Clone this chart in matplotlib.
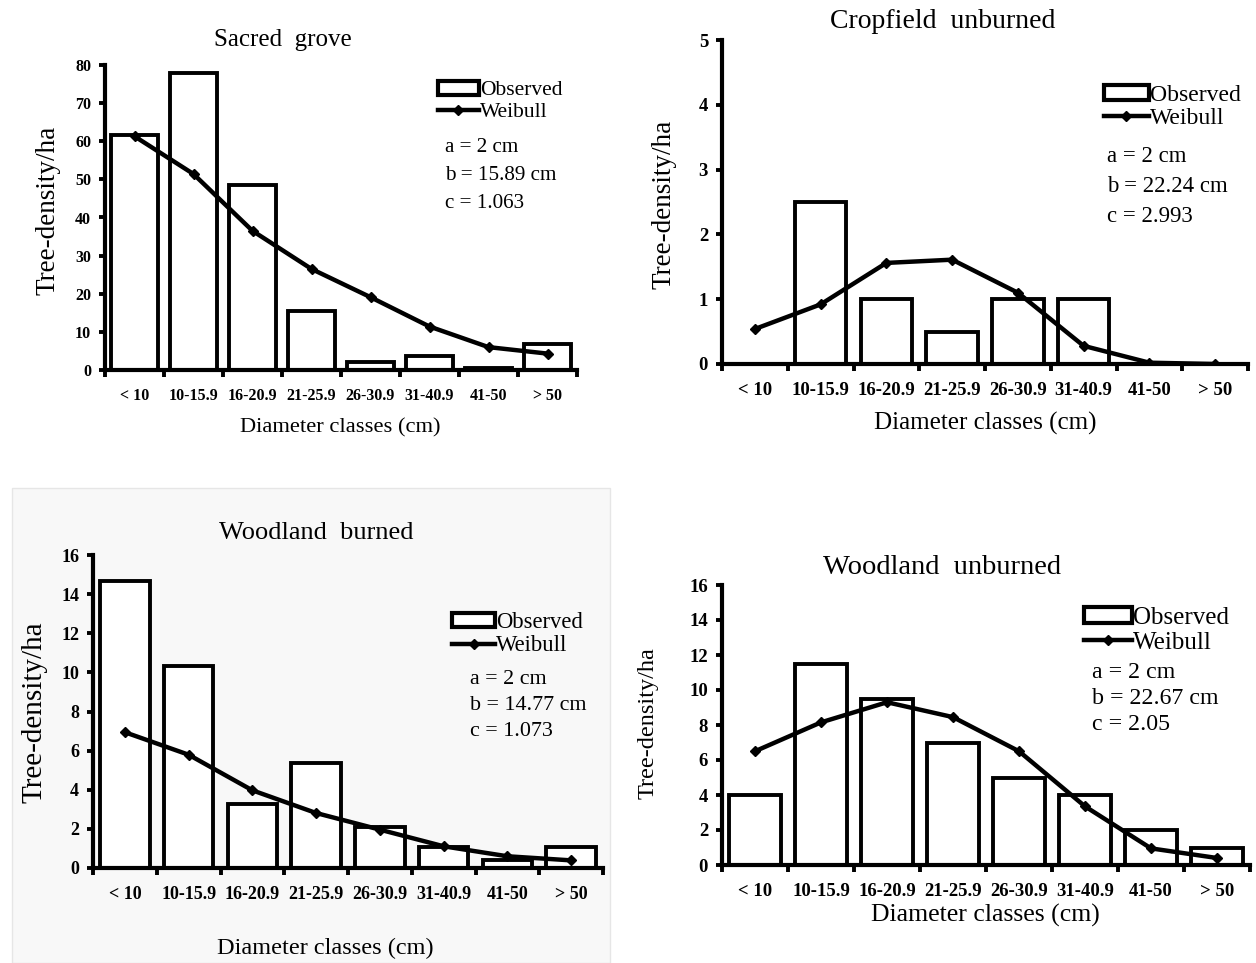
import numpy as np
import matplotlib
matplotlib.use('Agg')
import matplotlib.pyplot as plt
from matplotlib.patches import Patch, Rectangle
from matplotlib.lines import Line2D

plt.rcParams['font.family'] = ['Liberation Serif', 'DejaVu Serif']

W, H = 1256, 963

classes = ['< 10', '10-15.9', '16-20.9', '21-25.9', '26-30.9', '31-40.9', '41-50', '> 50']

sacred_obs = [61.7, 78, 48.5, 15.6, 2.0, 3.6, 0.6, 6.8]
sacred_wb = [61.3, 51.4, 36.5, 26.5, 19.1, 11.4, 6.0, 4.3]

crop_obs = [0, 2.5, 1, 0.5, 1, 1, 0, 0]
crop_wb = [0.54, 0.92, 1.56, 1.61, 1.1, 0.28, 0.02, 0.0]

wburn_obs = [14.65, 10.35, 3.25, 5.35, 2.1, 1.05, 0.4, 1.07]
wburn_wb = [6.94, 5.79, 3.97, 2.81, 1.96, 1.11, 0.6, 0.39]

wunburn_obs = [4, 11.5, 9.5, 7, 5, 4, 2, 1]
wunburn_wb = [6.5, 8.15, 9.3, 8.45, 6.5, 3.35, 0.95, 0.4]

titles = ['Sacred  grove', 'Cropfield  unburned', 'Woodland  burned', 'Woodland  unburned']
params = [('2', '15.89', '1.063'), ('2', '22.24', '2.993'),
          ('2', '14.77', '1.073'), ('2', '22.67', '2.05')]


def px(x0, y0, x1, y1):
    # pixel box (top-left origin) -> figure fraction rect
    return [x0 / W, 1 - y1 / H, (x1 - x0) / W, (y1 - y0) / H]


fig = plt.figure(figsize=(W / 100, H / 100), dpi=100)

# faint scanned background of the lower left panel
fig.patches.append(Rectangle((12 / W, 1 - 963 / H), 598 / W, 475 / H,
                             transform=fig.transFigure, facecolor='#f8f8f8',
                             edgecolor='#e6e6e6', lw=1, zorder=-5))


def panel(box, obs, wb, ymax, ystep, title, prm, title_xy, xlab_xy, ylab_xy,
          leg_xy, prm_xy, tick_fs=11.5, ylab_fs=19, xlab_fs=16, title_fs=18,
          leg_fs=15, prm_fs=15):
    ax = fig.add_axes(px(*box))
    ax.patch.set_alpha(0)
    x = np.arange(len(classes))
    ax.bar(x, obs, width=0.78, facecolor='white', edgecolor='black', lw=2.8, zorder=2)
    ax.plot(x, wb, color='black', lw=3.2, marker='D', ms=5.5, zorder=3)
    ax.set_xlim(-0.5, len(classes) - 0.5)
    ax.set_ylim(0, ymax)
    ax.set_yticks(np.arange(0, ymax + ystep / 2, ystep))
    ax.set_xticks(x)
    ax.set_xticklabels(classes, fontweight='bold', fontsize=tick_fs)
    ax.set_xticks(np.arange(-0.5, len(classes)), minor=True)
    ax.tick_params(axis='x', which='major', length=0, pad=13)
    ax.tick_params(axis='x', which='minor', length=5, width=2.8, direction='out')
    ax.tick_params(axis='y', length=4, width=2.8, direction='out', pad=6)
    for t in ax.get_yticklabels():
        t.set_fontweight('bold')
        t.set_fontsize(tick_fs)
    for s in ['top', 'right']:
        ax.spines[s].set_visible(False)
    for s in ['left', 'bottom']:
        ax.spines[s].set_linewidth(3.0)
    ax.spines['bottom'].set_zorder(4)

    fig.text(title_xy[0] / W, 1 - title_xy[1] / H, title, ha='center', va='center',
             fontsize=title_fs)
    fig.text(xlab_xy[0] / W, 1 - xlab_xy[1] / H, 'Diameter classes (cm)', ha='center',
             va='center', fontsize=xlab_fs)
    fig.text(ylab_xy[0] / W, 1 - ylab_xy[1] / H, 'Tree-density/ha', ha='center',
             va='center', rotation=90, fontsize=ylab_fs)

    handles = [Patch(facecolor='white', edgecolor='black', lw=3.0),
               Line2D([], [], color='black', lw=3.2, marker='D', ms=5.5)]
    fig.legend(handles, ['Observed', 'Weibull'], loc='upper left',
               bbox_to_anchor=(leg_xy[0] / W, 1 - leg_xy[1] / H),
               frameon=False, fontsize=leg_fs, handlelength=1.9, handleheight=0.6,
               handletextpad=0.05, labelspacing=0.1, borderpad=0, borderaxespad=0)

    a, b, c = prm
    lines = ['a = %s cm' % a, 'b = %s cm' % b, 'c = %s' % c]
    for i, s in enumerate(lines):
        fig.text(prm_xy[0] / W, 1 - (prm_xy[1] + i * prm_xy[2]) / H, s,
                 ha='left', va='center', fontsize=prm_fs)
    return ax


panel((105, 65, 577, 370), sacred_obs, sacred_wb, 80, 10, titles[0], params[0],
      (283, 40), (340, 428), (48, 210), (438, 81), (445, 148, 28),
      tick_fs=11.5, ylab_fs=19.5, xlab_fs=16.2, title_fs=18, leg_fs=15.5, prm_fs=15.2)

panel((722, 40, 1248, 364), crop_obs, crop_wb, 5, 1, titles[1], params[1],
      (943, 22), (985, 423), (664, 204), (1104, 85), (1107, 157, 30),
      tick_fs=13.5, ylab_fs=19.5, xlab_fs=18, title_fs=20, leg_fs=17, prm_fs=16.4)

panel((93, 555, 603, 868), wburn_obs, wburn_wb, 16, 2, titles[2], params[2],
      (316, 533), (325, 948), (35, 712), (452, 612), (470, 679, 26),
      tick_fs=13, ylab_fs=21, xlab_fs=17.5, title_fs=19, leg_fs=16.3, prm_fs=15.8)

panel((722, 585, 1250, 865), wunburn_obs, wunburn_wb, 16, 2, titles[3], params[3],
      (942, 567), (985, 915), (648, 723), (1084, 607), (1092, 672, 26),
      tick_fs=13.5, ylab_fs=17.5, xlab_fs=18.5, title_fs=20.5, leg_fs=18, prm_fs=17.2)

fig.savefig('out.png', dpi=100)
